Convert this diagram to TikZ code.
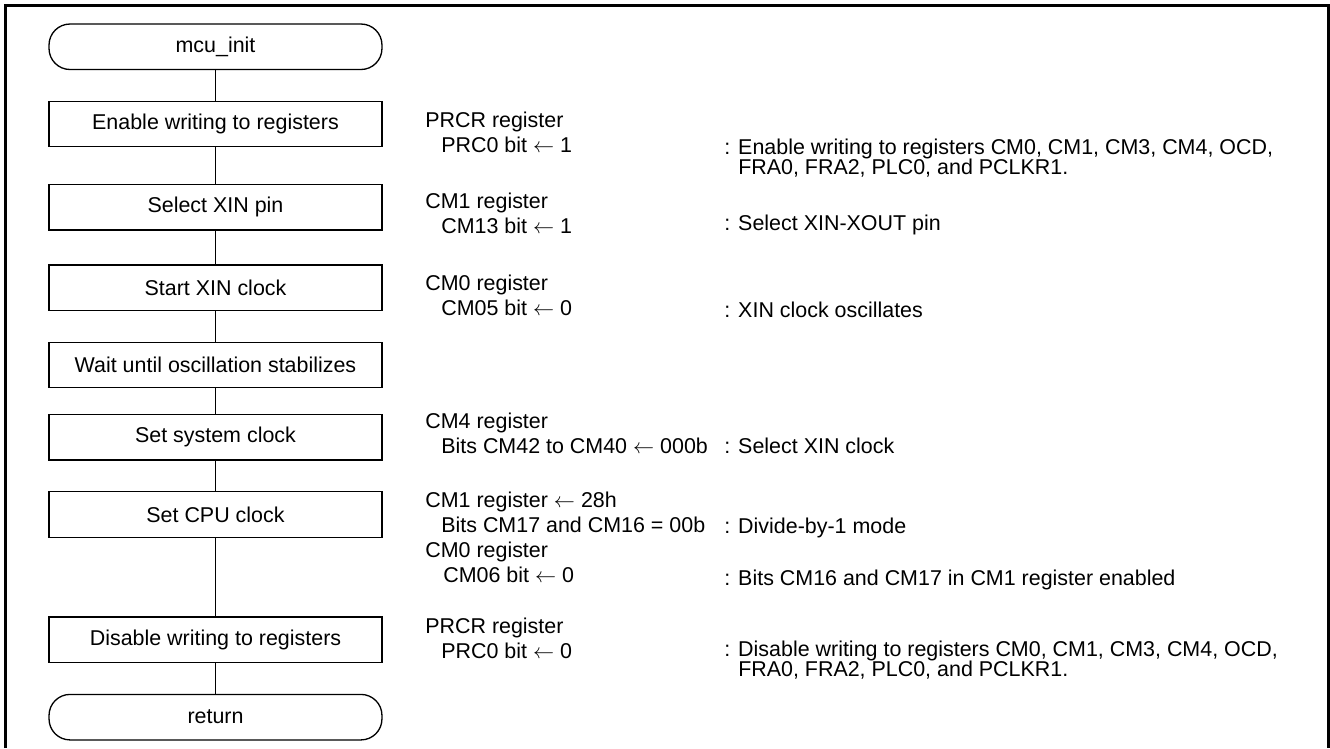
\documentclass[tikz,border=0pt]{standalone}
\usepackage{fontspec}
\setmainfont{Liberation Sans}
\usepackage{tikz}
\usetikzlibrary{positioning}

\newcommand{\regindent}{\hspace*{0.32cm}}
\newcommand{\getsarrow}{$\leftarrow$}

\begin{document}
\begin{tikzpicture}[
    x=0.02cm, y=0.02cm,
    node distance=0.61cm,
    font=\fontsize{12.2}{14.2}\selectfont,
    stepbox/.style={draw, line width=0.75pt, minimum width=6.66cm, minimum height=0.91cm, inner sep=0pt, align=center},
    terminal/.style={stepbox, rounded corners=0.42cm},
    regnote/.style={anchor=north west, yshift=0.31cm, align=left, inner sep=0pt},
    comment/.style={regnote, font={\fontsize{12.2}{11.2}\selectfont\lineskiplimit=-20pt}},
    flow/.style={line width=0.75pt}
  ]
    \useasboundingbox (0,0) rectangle (1330,-748);
    \draw[line width=1.5pt] (5.3,-748) -- (5.3,-5.3) -- (1328.7,-5.3) -- (1328.7,-748);

    \node[terminal] (init) at (215.5,-46.75) {mcu\_init};
    \node[stepbox, below=of init] (enable) {Enable writing to registers};
    \node[stepbox, below=0.73cm of enable] (selxin) {Select XIN pin};
    \node[stepbox, below=0.67cm of selxin] (startxin) {Start XIN clock};
    \node[stepbox, below=of startxin] (wait) {Wait until oscillation stabilizes};
    \node[stepbox, below=0.51cm of wait] (sysclk) {Set system clock};
    \node[stepbox, below=of sysclk] (cpuclk) {Set CPU clock};
    \node[stepbox, below=1.57cm of cpuclk] (disable) {Disable writing to registers};
    \node[terminal, below=of disable] (return) {return};

    \draw[flow] (init) -- (enable);
    \draw[flow] (enable) -- (selxin);
    \draw[flow] (selxin) -- (startxin);
    \draw[flow] (startxin) -- (wait);
    \draw[flow] (wait) -- (sysclk);
    \draw[flow] (sysclk) -- (cpuclk);
    \draw[flow] (cpuclk) -- (disable);
    \draw[flow] (disable) -- (return);

    \node[regnote] (prcron) at (425,-127) {PRCR register\\\regindent PRC0 bit \getsarrow{} 1};
    \node[comment] (enablenote) at (724,-154) {: Enable writing to registers CM0, CM1, CM3, CM4, OCD,\\\phantom{: }FRA0, FRA2, PLC0, and PCLKR1.};
    \node[regnote] (cmone) at (425,-208) {CM1 register\\\regindent CM13 bit \getsarrow{} 1};
    \node[comment] (selxinnote) at (724,-230) {: Select XIN-XOUT pin};
    \node[regnote] (cmzero) at (425,-290) {CM0 register\\\regindent CM05 bit \getsarrow{} 0};
    \node[comment] (startxinnote) at (724,-317) {: XIN clock oscillates};
    \node[regnote] (cmfour) at (425,-428) {CM4 register\\\regindent Bits CM42 to CM40 \getsarrow{} 000b};
    \node[comment] (sysclknote) at (724,-453) {: Select XIN clock};
    \node[regnote] (cmcpu) at (425,-507) {CM1 register \getsarrow{} 28h\\\regindent Bits CM17 and CM16 = 00b\\CM0 register\\\hspace*{0.36cm}CM06 bit \getsarrow{} 0};
    \node[comment] (dividenote) at (724,-533) {: Divide-by-1 mode};
    \node[comment] (cmsixnote) at (724,-585) {: Bits CM16 and CM17 in CM1 register enabled};
    \node[regnote] (prcroff) at (425,-633) {PRCR register\\\regindent PRC0 bit \getsarrow{} 0};
    \node[comment] (disablenote) at (724,-656) {: Disable writing to registers CM0, CM1, CM3, CM4, OCD,\\\phantom{: }FRA0, FRA2, PLC0, and PCLKR1.};
\end{tikzpicture}
\end{document}
